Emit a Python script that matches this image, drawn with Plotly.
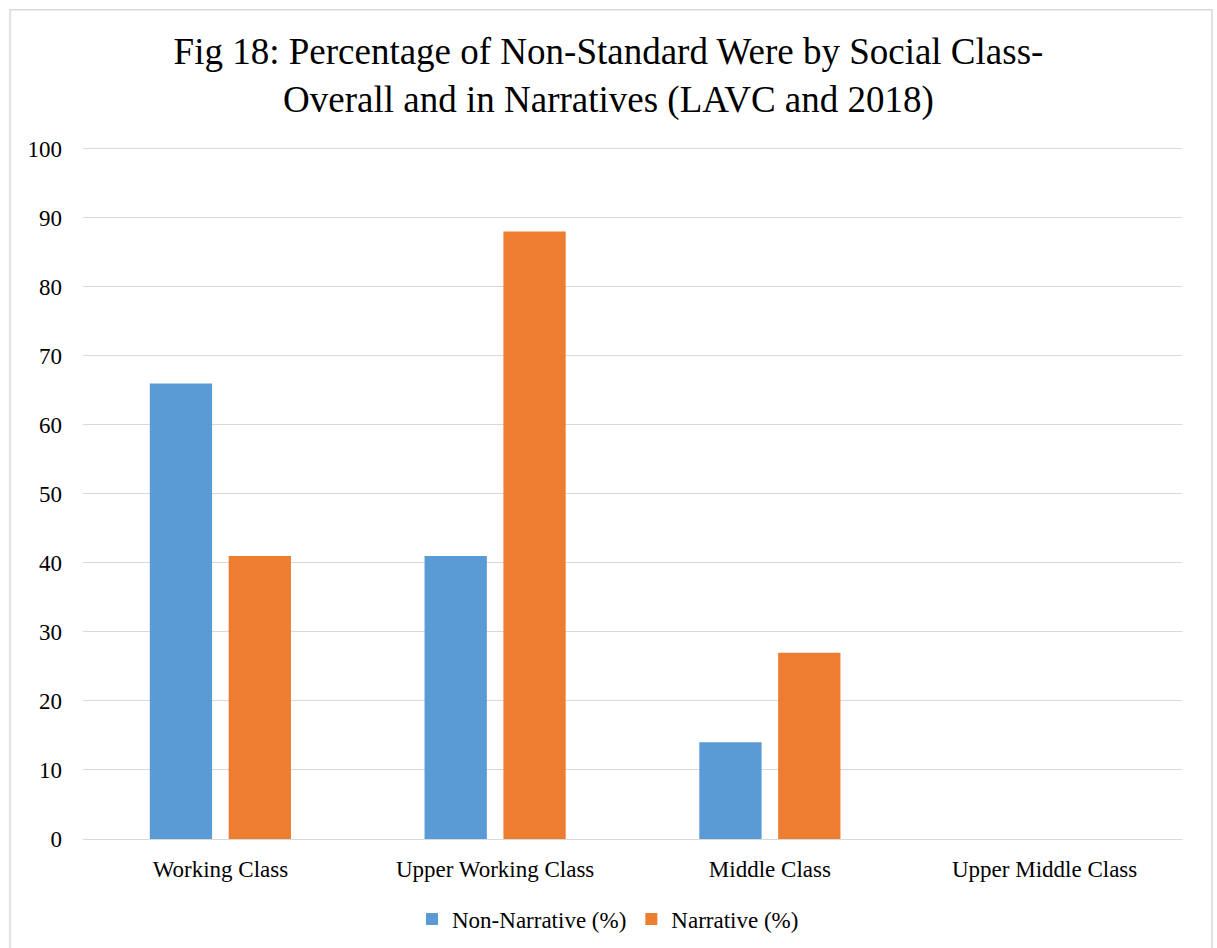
import plotly.graph_objects as go

# Social class categories and percentage of non-standard "were"
classes = ["Working Class", "Upper Working Class", "Middle Class", "Upper Middle Class"]
non_narrative = [66, 41, 14, 0]
narrative = [41, 88, 27, 0]

W, H = 1217, 948
Y_TOP = 100.4                      # a little headroom so the 100 gridline is drawn
L, R, B = 83, 35, 109
ph = 690 * Y_TOP / 100
T = H - B - ph
pw = W - L - R

def px_x(x):
    return (x - L) / pw

def px_y(y):
    return (H - B - y) / ph

fig = go.Figure()
fig.add_trace(go.Bar(x=classes, y=non_narrative, name="Non-Narrative (%)",
                     marker=dict(color="#5b9bd5", line=dict(width=0))))
fig.add_trace(go.Bar(x=classes, y=narrative, name="Narrative (%)",
                     marker=dict(color="#ed7d31", line=dict(width=0))))

font_family = "Liberation Serif, Times New Roman, serif"

fig.update_layout(
    width=W, height=H,
    margin=dict(l=L, r=R, t=T, b=B, autoexpand=False),
    paper_bgcolor="white", plot_bgcolor="white",
    barmode="group", bargap=0.426, bargroupgap=0.21,
    font=dict(family=font_family, color="#000000", size=23),
    title=dict(
        text="Fig 18: Percentage of Non-Standard Were by Social Class-<br>Overall and in Narratives (LAVC and 2018)",
        x=0.5, xref="container", xanchor="center",
        y=1 - 64 / H, yref="container", yanchor="middle",
        font=dict(family=font_family, size=37, color="#000000"),
    ),
    xaxis=dict(showgrid=False, showline=False, ticks="", zeroline=False,
               tickfont=dict(size=23), ticklabelstandoff=14),
    yaxis=dict(range=[0, Y_TOP], tickvals=list(range(0, 101, 10)), showgrid=True,
               gridcolor="#d9d9d9", gridwidth=1.3, zeroline=True,
               zerolinecolor="#d9d9d9", zerolinewidth=1.3,
               showline=False, ticks="", tickfont=dict(size=23), ticklabelstandoff=20),
    legend=dict(orientation="h", x=608 / W, xanchor="center", xref="container",
                y=1 - 919 / H, yanchor="middle", yref="container",
                font=dict(size=23), itemwidth=30, traceorder="normal"),
    shapes=[dict(type="rect", xref="paper", yref="paper",
                 x0=px_x(10), x1=px_x(1212), y0=px_y(990), y1=px_y(10),
                 line=dict(color="#d9d9d9", width=1.5), fillcolor="rgba(0,0,0,0)",
                 layer="below")],
)

fig.write_html("out.html")
